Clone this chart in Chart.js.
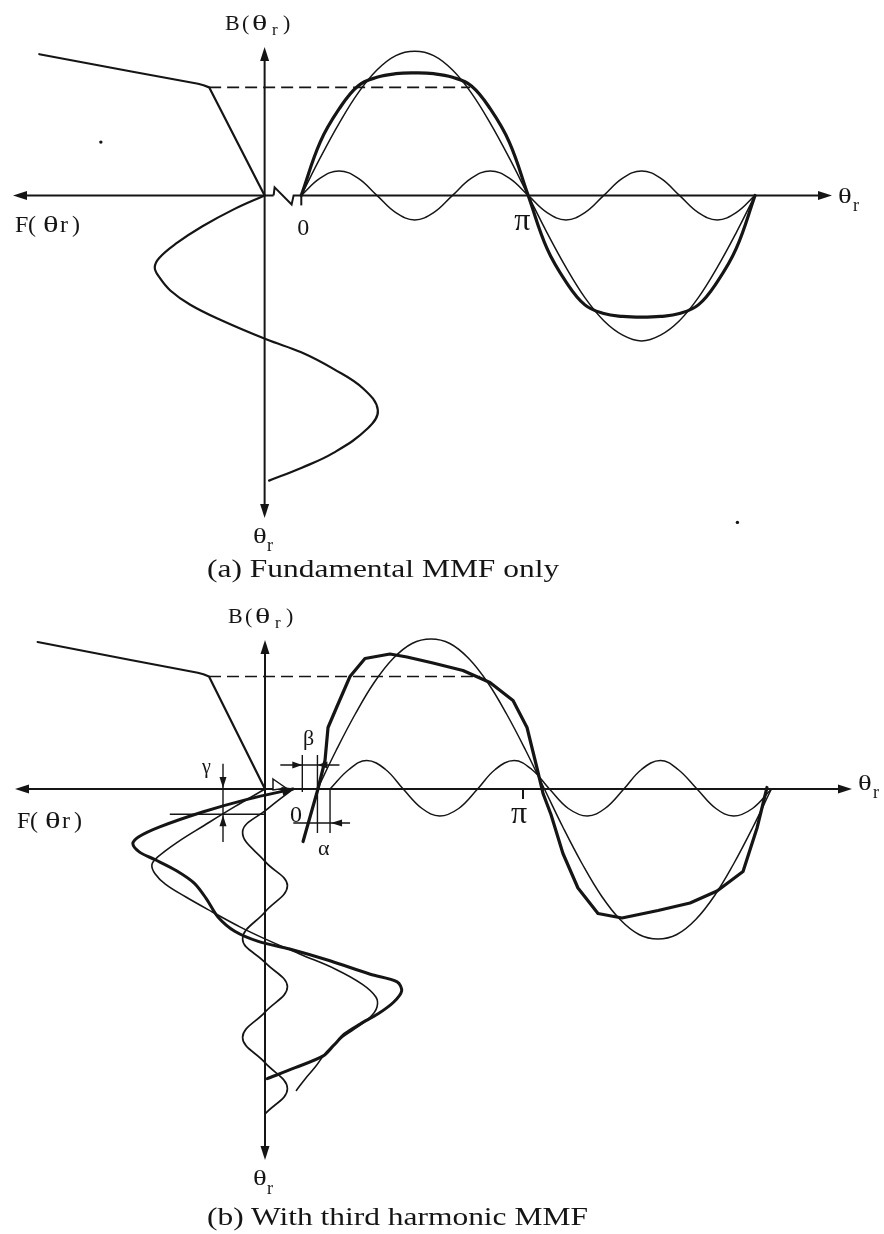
<!DOCTYPE html>
<html>
<head>
<meta charset="utf-8">
<script src="https://cdn.jsdelivr.net/npm/chart.js@4.4.0/dist/chart.umd.min.js"></script>
<style>
  body { margin: 0; background: #fff; }
  #page { position: relative; width: 884px; height: 1234px; overflow: hidden; }
  canvas { position: absolute; left: 0; }
  .cap { position: absolute; font-family: "Liberation Serif", "Times New Roman", serif;
         font-size: 26px; line-height: 1; color: #151515; white-space: nowrap;
         transform: scaleX(1.21); transform-origin: 0 0; }
</style>
</head>
<body>
<div id="page">
  <canvas id="panelA" width="884" height="597" style="top:0"></canvas>
  <canvas id="panelB" width="884" height="637" style="top:597px"></canvas>
  <div class="cap" style="left:207px;top:556px">(a) Fundamental MMF only</div>
  <div class="cap" style="left:207px;top:1204px">(b) With third harmonic MMF</div>
</div>
<script>
const ink = "#151515";
const serif = '"Liberation Serif", "Times New Roman", serif';

// magnetisation curve B(F), shared by both panels
const satF = [0, 0.50, 0.55, 0.60, 1.20, 2.03];
const satB = [0, 0.75, 0.765, 0.775, 0.86, 0.98];
const kneeF = 0.50;
const kneeB = 0.75;

// (a) fundamental MMF only
const angA = [0, 15, 30, 45, 60, 75, 90, 105, 120, 135, 150, 165, 180,
              195, 210, 225, 240, 255, 270, 285, 300, 315, 330, 345, 360];
const fundA = [0, 0.26, 0.5, 0.71, 0.87, 0.97, 1.0, 0.97, 0.87, 0.71, 0.5, 0.26, 0,
               -0.26, -0.5, -0.71, -0.87, -0.97, -1.01, -0.97, -0.87, -0.71, -0.5, -0.26, 0];
const thirdA = [0, 0.12, 0.17, 0.12, 0, -0.12, -0.17, -0.12, 0, 0.12, 0.17, 0.12, 0,
                -0.12, -0.17, -0.12, 0, 0.12, 0.17, 0.12, 0, -0.12, -0.17, -0.12, 0];
const fluxA = [0, 0.37, 0.6, 0.76, 0.82, 0.845, 0.85, 0.845, 0.82, 0.76, 0.6, 0.37, 0,
               -0.37, -0.6, -0.76, -0.82, -0.84, -0.845, -0.84, -0.82, -0.76, -0.6, -0.37, 0];
const mmfAngA = [0, 17, 39, 61, 79, 91, 103, 120, 138, 157, 182, 198, 219, 244, 271, 294, 325, 344, 360];
const mmfA = [0, 0.27, 0.56, 0.80, 0.95, 0.99, 0.95, 0.85, 0.67, 0.40, -0.02,
              -0.33, -0.62, -0.89, -1.02, -0.93, -0.62, -0.33, -0.04];
const dashEndA = 134;
const speckAng = [-159, 346];
const speckB = [0.37, -2.27];

// (b) with third harmonic MMF: left side, MMF against angle
const f1Ang = [0, 21, 43, 63, 81, 90, 101, 113, 128, 146, 164, 178, 196, 214,
               232, 247, 259, 271, 285, 297, 312, 330, 344, 358];
const f1B = [0, 0.27, 0.54, 0.78, 0.96, 1.01, 0.98, 0.89, 0.71, 0.47, 0.22, 0, -0.31, -0.63,
             -0.87, -0.99, -1.0, -0.94, -0.80, -0.67, -0.55, -0.45, -0.36, -0.28];
const f3Ang = [0, 24, 51, 86, 115, 146, 178, 206, 235, 265, 295, 325, 356, 386];
const f3B = [-0.25, -0.02, 0.2, 0, -0.2, 0, 0.2, 0, -0.2, 0, 0.2, 0, -0.2, 0];
const fResAng = [0, 12, 27, 45, 57, 65, 75, 84, 97, 112, 131, 152, 169, 181, 190, 204,
                 220, 229, 240, 253, 267, 279, 291, 305, 317, 331, 344];
const fRes = [-0.25, 0.15, 0.55, 0.94, 1.13, 1.18, 1.12, 0.98, 0.79, 0.63, 0.52, 0.42, 0.27,
              0.06, -0.22, -0.58, -0.94, -1.18, -1.22, -1.15, -1.01, -0.85, -0.71, -0.61,
              -0.52, -0.27, -0.02];

// (b) right side, flux density against angle
const b1Ang = [17, 32, 47, 62, 77, 92, 107, 122, 137, 152, 167, 182, 197,
               212, 227, 242, 257, 272, 287, 302, 317, 332, 347, 362, 377];
const b1B = [0, 0.26, 0.5, 0.71, 0.87, 0.97, 1.0, 0.97, 0.87, 0.71, 0.5, 0.26, 0,
             -0.26, -0.5, -0.71, -0.87, -0.97, -1.0, -0.97, -0.87, -0.71, -0.5, -0.26, 0];
const b3Ang = [27, 42, 56, 71, 85, 100, 114, 129, 144, 158, 173, 187, 201,
               216, 231, 245, 260, 274, 289, 303, 318, 333, 347, 362, 377];
const b3B = [0, 0.13, 0.19, 0.13, 0, -0.13, -0.18, -0.13, 0, 0.13, 0.19, 0.13, 0,
             -0.13, -0.18, -0.13, 0, 0.13, 0.19, 0.13, 0, -0.13, -0.18, -0.13, 0];
const fluxAng = [5.6, 17.4, 23, 25.4, 32.5, 42.8, 54.7, 74.5, 88, 108.6, 132.4, 153.8, 172.1,
                 183.2, 191.1, 195.9, 202.2, 211.7, 223.6, 239.5, 258.5, 287.1, 312.5, 333.9,
                 354.5, 365.6, 373.5];
const fluxB = [-0.35, 0, 0.19, 0.41, 0.55, 0.75, 0.87, 0.90, 0.88, 0.84, 0.79, 0.71, 0.59,
               0.41, 0.14, -0.03, -0.17, -0.43, -0.66, -0.83, -0.86, -0.81, -0.76, -0.68,
               -0.55, -0.26, 0.01];
const dashEndB = 146;
const shiftAng = [5, 17, 27];   // beta from 5 to 17, alpha from 17 to 27
const gammaAng = 30;
const gammaF = 0.375;

// scale range so that value 0 lands on a given pixel with a given pixels-per-unit
function span(origin, ppu, size, withPixel) {
  return withPixel ? { min: -origin / ppu, max: (size - origin) / ppu }
                   : { min: -(size - origin) / ppu, max: origin / ppu };
}

function curve(xs, ys, width, opts) {
  return Object.assign({
    data: xs.map((v, i) => ({ x: v, y: ys[i] })),
    showLine: true, borderColor: ink, borderWidth: width, pointRadius: 0,
    tension: 0.4, fill: false, borderCapStyle: "round", borderJoinStyle: "round",
    xAxisID: "x", yAxisID: "y"
  }, opts || {});
}

function line(ctx, x1, y1, x2, y2) {
  ctx.beginPath(); ctx.moveTo(x1, y1); ctx.lineTo(x2, y2); ctx.stroke();
}

function arrow(ctx, x, y, dx, dy, len, half) {
  len = len || 14; half = half || 4.5;
  const n = Math.hypot(dx, dy); dx /= n; dy /= n;
  ctx.beginPath();
  ctx.moveTo(x, y);
  ctx.lineTo(x - dx * len - dy * half, y - dy * len + dx * half);
  ctx.lineTo(x - dx * len + dy * half, y - dy * len - dx * half);
  ctx.closePath(); ctx.fill();
}

// pieces: [text, x, baseline, size, horizontal stretch]
function write(ctx, pieces) {
  pieces.forEach(([s, x, y, size, sx]) => {
    ctx.save();
    ctx.font = size + "px " + serif;
    ctx.textBaseline = "alphabetic";
    ctx.translate(x, y);
    ctx.scale(sx || 1, 1);
    ctx.fillText(s, 0, 0);
    ctx.restore();
  });
}

function scalesFor(h, thetaOrigin, thetaPpu, axisY, bPpu, vAxisX, fPpu, downPpu) {
  const base = { type: "linear", display: false, bounds: "data" };
  return {
    x: Object.assign({ axis: "x" }, base, span(thetaOrigin, thetaPpu, 884, true)),
    y: Object.assign({ axis: "y" }, base, span(axisY, bPpu, h, false)),
    xF: Object.assign({ axis: "x", reverse: true }, base, span(vAxisX, fPpu, 884, false)),
    yT: Object.assign({ axis: "y", reverse: true }, base, span(axisY, downPpu, h, true))
  };
}

function baseOptions(scales) {
  return {
    responsive: false, animation: false, devicePixelRatio: 1,
    layout: { padding: 0 },
    plugins: { legend: { display: false }, tooltip: { enabled: false } },
    scales
  };
}

function overlayA(chart) {
  const { ctx, scales: s } = chart;
  const y0 = s.y.getPixelForValue(0);
  const v0 = s.xF.getPixelForValue(0);
  const t0 = s.x.getPixelForValue(0);
  ctx.save();
  ctx.strokeStyle = ink; ctx.fillStyle = ink; ctx.lineWidth = 2;
  // horizontal axis with the break symbol between the two origins
  line(ctx, 20, y0, v0 + 9, y0);
  ctx.beginPath();
  ctx.moveTo(v0 + 9, y0); ctx.lineTo(v0 + 10, y0 - 8); ctx.lineTo(v0 + 27, y0 + 9);
  ctx.lineTo(v0 + 29, y0); ctx.lineTo(825, y0);
  ctx.stroke();
  arrow(ctx, 13, y0, -1, 0); arrow(ctx, 832, y0, 1, 0);
  line(ctx, v0, 55, v0, 510);
  arrow(ctx, v0, 47, 0, -1); arrow(ctx, v0, 518, 0, 1);
  line(ctx, t0, y0, t0, y0 + 10);
  // saturation level
  ctx.lineWidth = 1.6;
  ctx.setLineDash([12, 6]);
  const yk = s.y.getPixelForValue(kneeB);
  line(ctx, s.xF.getPixelForValue(kneeF), yk, s.x.getPixelForValue(dashEndA), yk);
  ctx.setLineDash([]);
  write(ctx, [
    ["B", 225, 30, 22], ["(", 242, 30, 22], ["θ", 252, 30, 22, 1.45], ["r", 272, 35, 17], [")", 283, 30, 22],
    ["F", 15, 232, 24], ["(", 28, 232, 24], ["θ", 43, 232, 24, 1.35], ["r", 60, 232, 24], [")", 72, 232, 24],
    ["0", t0 - 4, 235, 24],
    ["π", s.x.getPixelForValue(180) - 14, 230, 32],
    ["θ", 838, 203, 22, 1.3], ["r", 853, 211, 18],
    ["θ", 253, 543, 22, 1.3], ["r", 267, 551, 18]
  ]);
  ctx.restore();
}

function overlayB(chart) {
  const { ctx, scales: s } = chart;
  const y0 = s.y.getPixelForValue(0);
  const v0 = s.xF.getPixelForValue(0);
  ctx.save();
  ctx.strokeStyle = ink; ctx.fillStyle = ink; ctx.lineWidth = 2;
  line(ctx, 22, y0, 845, y0);
  arrow(ctx, 15, y0, -1, 0); arrow(ctx, 852, y0, 1, 0);
  line(ctx, v0, 50, v0, 556);
  arrow(ctx, v0, 43, 0, -1); arrow(ctx, v0, 563, 0, 1);
  const tp = s.x.getPixelForValue(180);
  line(ctx, tp, y0, tp, y0 + 10);
  // open arrowhead on the axis
  ctx.lineWidth = 1.5;
  ctx.fillStyle = "#fff";
  ctx.beginPath();
  ctx.moveTo(v0 + 8, y0 - 10); ctx.lineTo(v0 + 21, y0 - 1); ctx.lineTo(v0 + 8, y0 + 1);
  ctx.closePath(); ctx.fill(); ctx.stroke();
  ctx.fillStyle = ink;
  // head on the resultant MMF start
  const p0 = { x: s.xF.getPixelForValue(fRes[0]), y: s.yT.getPixelForValue(fResAng[0]) };
  const p1 = { x: s.xF.getPixelForValue(fRes[1]), y: s.yT.getPixelForValue(fResAng[1]) };
  arrow(ctx, p0.x + 2, p0.y - 0.5, p0.x - p1.x, p0.y - p1.y, 13, 4.5);
  // saturation level
  ctx.lineWidth = 1.6;
  ctx.setLineDash([12, 6]);
  const yk = s.y.getPixelForValue(kneeB);
  line(ctx, s.xF.getPixelForValue(kneeF), yk, s.x.getPixelForValue(dashEndB), yk);
  ctx.setLineDash([]);
  // beta and alpha shift markers
  ctx.lineWidth = 1.4;
  const [xa, xb, xc] = shiftAng.map(v => s.x.getPixelForValue(v));
  line(ctx, xa, y0 - 34, xa, y0 + 3);
  line(ctx, xb, y0 - 34, xb, y0 + 44);
  line(ctx, xc, y0 - 1, xc, y0 + 44);
  const yb = y0 - 24, ya = y0 + 34;
  line(ctx, xa - 22, yb, xb + 22, yb);
  arrow(ctx, xa, yb, 1, 0, 10, 3.5); arrow(ctx, xb, yb, -1, 0, 10, 3.5);
  line(ctx, xa - 9, ya, xc + 20, ya);
  arrow(ctx, xc + 1, ya, -1, 0, 11, 3.5);
  // gamma marker
  const xg = s.xF.getPixelForValue(gammaF);
  const yg = s.yT.getPixelForValue(gammaAng);
  line(ctx, s.xF.getPixelForValue(0.85), yg, v0, yg);
  line(ctx, xg, s.yT.getPixelForValue(-30), xg, s.yT.getPixelForValue(63));
  arrow(ctx, xg, y0 - 1, 0, 1, 11, 3.5); arrow(ctx, xg, yg + 1, 0, -1, 11, 3.5);
  write(ctx, [
    ["B", 228, 26, 22], ["(", 245, 26, 22], ["θ", 255, 26, 22, 1.45], ["r", 275, 31, 17], [")", 286, 26, 22],
    ["F", 17, 231, 24], ["(", 30, 231, 24], ["θ", 45, 231, 24, 1.35], ["r", 62, 231, 24], [")", 74, 231, 24],
    ["0", s.x.getPixelForValue(0) - 6, 225, 24],
    ["π", tp - 12, 226, 32],
    ["θ", 858, 193, 22, 1.3], ["r", 873, 201, 18],
    ["θ", 253, 588, 22, 1.3], ["r", 267, 597, 18],
    ["β", 303, 148, 22], ["α", 318, 258, 22], ["γ", 202, 176, 20]
  ]);
  ctx.restore();
}

new Chart(document.getElementById("panelA"), {
  type: "scatter",
  data: {
    datasets: [
      curve(satF, satB, 2.2, { xAxisID: "xF", tension: 0 }),
      curve(mmfA, mmfAngA, 2.2, { xAxisID: "xF", yAxisID: "yT" }),
      curve(angA, fundA, 1.5),
      curve(angA, thirdA, 1.5),
      curve(angA, fluxA, 3.2),
      { data: speckAng.map((v, i) => ({ x: v, y: speckB[i] })), pointRadius: 1.7,
        backgroundColor: ink, borderWidth: 0 }
    ]
  },
  options: baseOptions(scalesFor(597, 300, 1.272, 194, 146, 263, 112, 0.803)),
  plugins: [{ id: "overlayA", afterDatasetsDraw: overlayA }]
});

new Chart(document.getElementById("panelB"), {
  type: "scatter",
  data: {
    datasets: [
      curve(satF, satB, 2.2, { xAxisID: "xF", tension: 0 }),
      curve(f1B, f1Ang, 1.6, { xAxisID: "xF", yAxisID: "yT" }),
      curve(f3B, f3Ang, 1.7, { xAxisID: "xF", yAxisID: "yT" }),
      curve(fRes, fResAng, 3, { xAxisID: "xF", yAxisID: "yT", tension: 0.3 }),
      curve(b1Ang, b1B, 1.5),
      curve(b3Ang, b3B, 1.5),
      curve(fluxAng, fluxB, 3.2, { tension: 0 })
    ]
  },
  options: baseOptions(scalesFor(637, 296, 1.261, 192, 150, 265, 112, 0.842)),
  plugins: [{ id: "overlayB", afterDatasetsDraw: overlayB }]
});
</script>
</body>
</html>
